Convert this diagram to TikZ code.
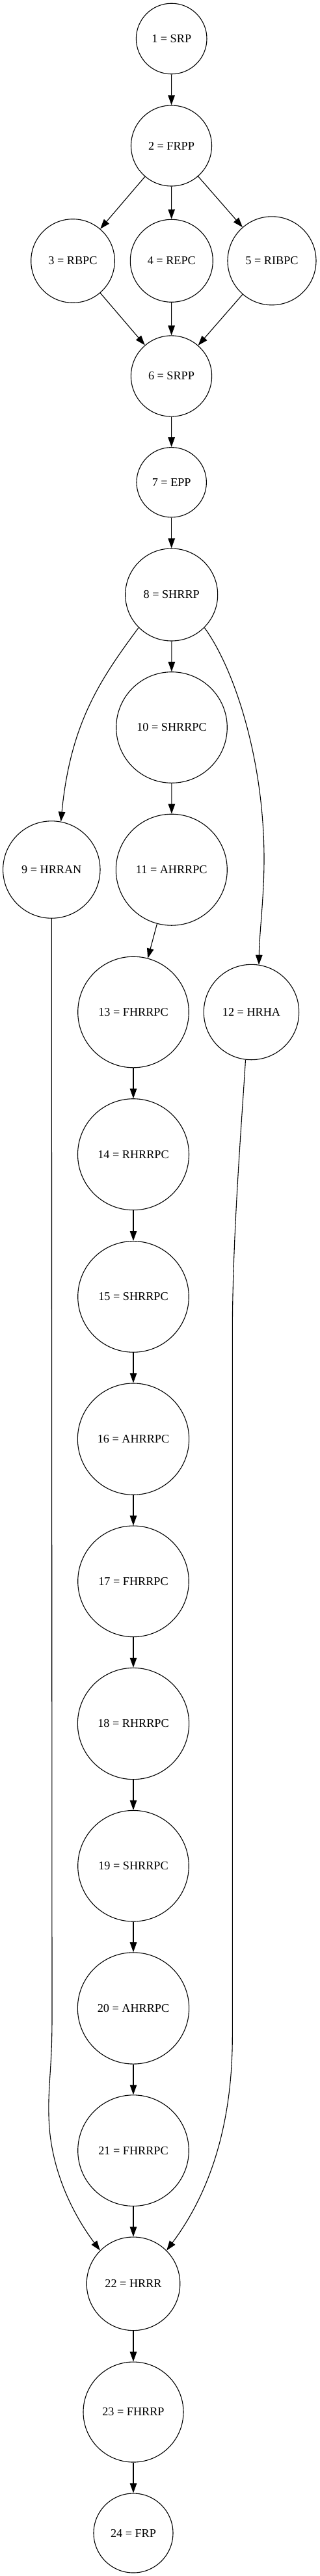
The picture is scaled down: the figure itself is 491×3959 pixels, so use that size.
\documentclass[tikz,border=0pt]{standalone}
\usepackage{fontspec}
\setmainfont{Liberation Serif}
\usetikzlibrary{arrows.meta}
\tikzset{
  gn/.style={circle,draw=black,line width=1.1pt,minimum size=#1,inner sep=0pt,
    font=\fontsize{18.2}{22}\selectfont},
  arr/.style={draw=black,line width=1.1pt,-{Triangle[length=15pt,width=10.5pt]}}
}
\begin{document}
\begin{tikzpicture}[x=1pt,y=-1pt]
\useasboundingbox[fill=white] (0,0) rectangle (491,3959);
\node[gn=108.6pt] (n1) at (263.7,59.5) {1 = SRP};
\node[gn=124pt] (n2) at (263.5,224) {2 = FRPP};
\node[gn=128.6pt] (n3) at (112,401) {3 = RBPC};
\node[gn=127pt] (n4) at (263.8,400.8) {4 = REPC};
\node[gn=136pt] (n5) at (418,400.8) {5 = RIBPC};
\node[gn=124.2pt] (n6) at (263.5,578) {6 = SRPP};
\node[gn=107.4pt] (n7) at (263.7,741.3) {7 = EPP};
\node[gn=142pt] (n8) at (263.7,914) {8 = SHRRP};
\node[gn=170.6pt] (n10) at (264,1118) {10 = SHRRPC};
\node[gn=149.4pt] (n9) at (79.3,1336.5) {9 = HRRAN};
\node[gn=171pt] (n11) at (263.8,1336.7) {11 = AHRRPC};
\node[gn=170.6pt] (n13) at (205,1555.5) {13 = FHRRPC};
\node[gn=146.4pt] (n12) at (386.5,1555.5) {12 = HRHA};
\node[gn=171pt] (n14) at (205,1774.2) {14 = RHRRPC};
\node[gn=170.6pt] (n15) at (205,1992.9) {15 = SHRRPC};
\node[gn=171.3pt] (n16) at (205,2211.6) {16 = AHRRPC};
\node[gn=170.6pt] (n17) at (205,2430.3) {17 = FHRRPC};
\node[gn=171.3pt] (n18) at (205,2649) {18 = RHRRPC};
\node[gn=170.6pt] (n19) at (205,2867.7) {19 = SHRRPC};
\node[gn=171.3pt] (n20) at (205,3086.4) {20 = AHRRPC};
\node[gn=170.6pt] (n21) at (205,3305.1) {21 = FHRRPC};
\node[gn=143.6pt] (n22) at (205,3509.8) {22 = HRRR};
\node[gn=154pt] (n23) at (205,3707) {23 = FHRRP};
\node[gn=122pt] (n24) at (205,3893) {24 = FRP};

\draw[arr] (n1) -- (n2);
\draw[arr] (n2) -- (n3);
\draw[arr] (n2) -- (n4);
\draw[arr] (n2) -- (n5);
\draw[arr] (n3) -- (n6);
\draw[arr] (n4) -- (n6);
\draw[arr] (n5) -- (n6);
\draw[arr] (n6) -- (n7);
\draw[arr] (n7) -- (n8);
\draw[arr] (n8) -- (n10);
\draw[arr] (n10) -- (n11);
\draw[arr] (n11) -- (n13);
\draw[arr] (n13) -- (n14);
\draw[arr] (n14) -- (n15);
\draw[arr] (n15) -- (n16);
\draw[arr] (n16) -- (n17);
\draw[arr] (n17) -- (n18);
\draw[arr] (n18) -- (n19);
\draw[arr] (n19) -- (n20);
\draw[arr] (n20) -- (n21);
\draw[arr] (n21) -- (n22);
\draw[arr] (n22) -- (n23);
\draw[arr] (n23) -- (n24);

\draw[arr] (n8.225.5) .. controls (153.5,1045) and (108.3,1112) .. (n9.79.4);
\draw[arr] (n8.315.3) .. controls (361.7,1029.8) and (406,1170) .. (406,1320)
  .. controls (406,1380) and (399,1430) .. (n12.81.3);
\draw[arr] (n12.263.5) .. controls (372,1720) and (357.3,1900) .. (357.3,2050)
  -- (357.3,3130) .. controls (357.3,3250) and (330,3360) .. (n22.45);
\draw[arr] (n9.south) -- (80,3100) .. controls (80,3180) and (74,3200) .. (75,3250)
  .. controls (76,3330) and (110,3400) .. (n22.135.7);
\end{tikzpicture}
\end{document}
